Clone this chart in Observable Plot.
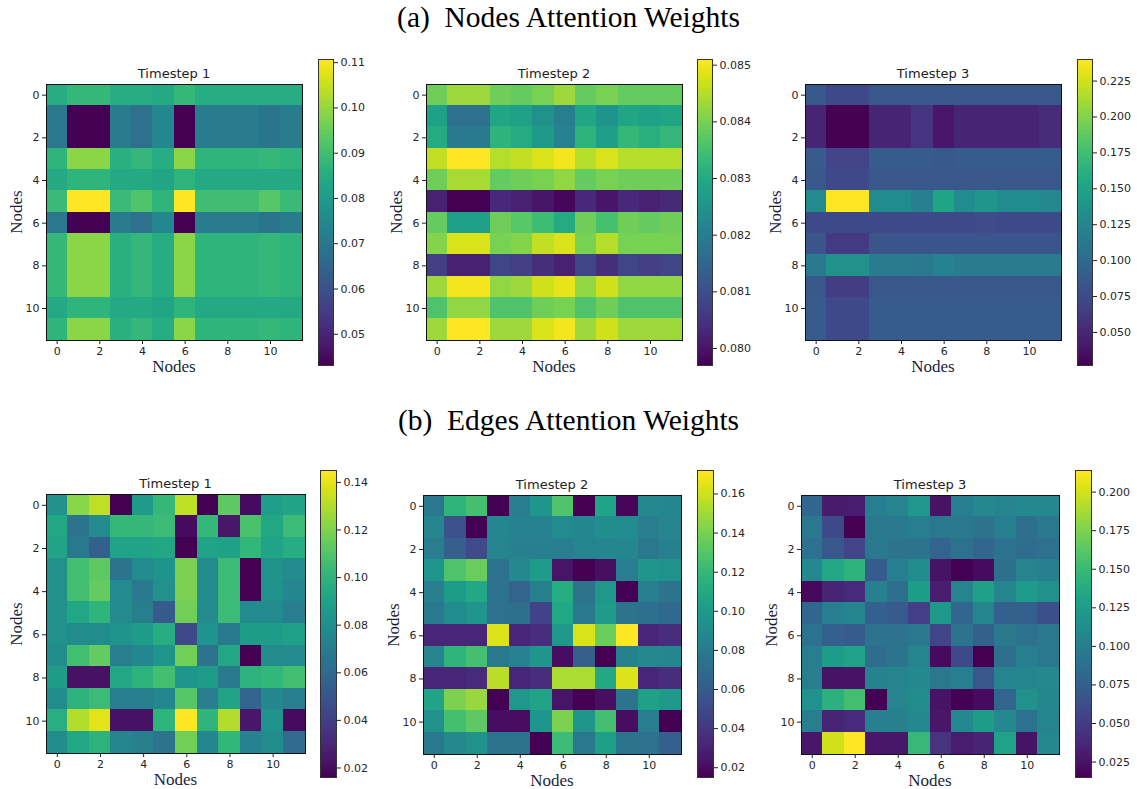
<!DOCTYPE html>
<html>
<head>
<meta charset="utf-8">
<script src="https://cdn.jsdelivr.net/npm/d3@7"></script>
<script src="https://cdn.jsdelivr.net/npm/@observablehq/plot@0.6"></script>
<style>
  html, body { margin: 0; padding: 0; background: #fff; }
  #root { position: relative; width: 1137px; height: 789px; overflow: hidden; background: #fff; }
  .heading { position: absolute; left: 0; width: 1137px; text-align: center; font-family: "Liberation Serif", "Times New Roman", serif; font-size: 29.5px; color: #000; white-space: pre; }
  .ptitle { position: absolute; text-align: center; font-family: "DejaVu Sans", sans-serif; font-size: 13px; color: #222; }
  .alabel { position: absolute; font-family: "Liberation Serif", "Times New Roman", serif; font-size: 17px; color: #1b1f3b; white-space: nowrap; }
  svg { position: absolute; overflow: visible; }
</style>
</head>
<body>
<div id="root"></div>
<script>
// ---------- DATA ----------
const nodeIndex = d3.range(12);
const axisTicks = [0, 2, 4, 6, 8, 10];
const headings = ["(a)  Nodes Attention Weights", "(b)  Edges Attention Weights"];
const panelTitles = ["Timestep 1", "Timestep 2", "Timestep 3"];
const axisLabel = "Nodes";

// (a) Nodes attention, timestep 1
const nodesT1 = [
  [0.085, 0.088, 0.088, 0.085, 0.085, 0.084, 0.088, 0.085, 0.085, 0.085, 0.085, 0.085],
  [0.070, 0.043, 0.043, 0.071, 0.068, 0.074, 0.043, 0.071, 0.071, 0.071, 0.069, 0.071],
  [0.070, 0.043, 0.043, 0.071, 0.068, 0.074, 0.043, 0.071, 0.071, 0.071, 0.069, 0.071],
  [0.087, 0.099, 0.099, 0.086, 0.088, 0.085, 0.099, 0.087, 0.087, 0.087, 0.088, 0.087],
  [0.084, 0.087, 0.087, 0.084, 0.084, 0.083, 0.087, 0.084, 0.084, 0.084, 0.084, 0.084],
  [0.089, 0.111, 0.111, 0.089, 0.092, 0.087, 0.111, 0.090, 0.090, 0.090, 0.093, 0.089],
  [0.070, 0.043, 0.043, 0.071, 0.068, 0.074, 0.043, 0.071, 0.071, 0.071, 0.069, 0.071],
  [0.088, 0.099, 0.099, 0.086, 0.088, 0.085, 0.099, 0.087, 0.087, 0.087, 0.088, 0.087],
  [0.088, 0.099, 0.099, 0.086, 0.088, 0.085, 0.099, 0.087, 0.087, 0.087, 0.088, 0.087],
  [0.088, 0.099, 0.099, 0.086, 0.088, 0.085, 0.099, 0.087, 0.087, 0.087, 0.088, 0.087],
  [0.084, 0.087, 0.087, 0.084, 0.084, 0.083, 0.087, 0.084, 0.084, 0.084, 0.084, 0.084],
  [0.087, 0.099, 0.099, 0.086, 0.088, 0.085, 0.099, 0.087, 0.087, 0.087, 0.088, 0.087]
];
// (a) Nodes attention, timestep 2
const nodesT2 = [
  [0.0839, 0.0843, 0.0843, 0.0839, 0.0838, 0.0840, 0.0843, 0.0838, 0.0840, 0.0838, 0.0838, 0.0838],
  [0.0828, 0.0817, 0.0817, 0.0829, 0.0828, 0.0824, 0.0820, 0.0829, 0.0825, 0.0829, 0.0828, 0.0829],
  [0.0830, 0.0819, 0.0819, 0.0832, 0.0830, 0.0826, 0.0821, 0.0832, 0.0827, 0.0833, 0.0831, 0.0833],
  [0.0846, 0.0851, 0.0851, 0.0845, 0.0846, 0.0848, 0.0850, 0.0845, 0.0848, 0.0845, 0.0845, 0.0845],
  [0.0839, 0.0844, 0.0844, 0.0838, 0.0839, 0.0840, 0.0842, 0.0838, 0.0840, 0.0839, 0.0839, 0.0839],
  [0.0802, 0.0797, 0.0797, 0.0803, 0.0802, 0.0800, 0.0798, 0.0803, 0.0800, 0.0803, 0.0802, 0.0803],
  [0.0838, 0.0828, 0.0828, 0.0839, 0.0837, 0.0834, 0.0830, 0.0839, 0.0835, 0.0839, 0.0838, 0.0839],
  [0.0841, 0.0848, 0.0848, 0.0840, 0.0841, 0.0846, 0.0848, 0.0840, 0.0845, 0.0840, 0.0840, 0.0840],
  [0.0807, 0.0802, 0.0802, 0.0808, 0.0807, 0.0804, 0.0802, 0.0808, 0.0804, 0.0808, 0.0807, 0.0808],
  [0.0843, 0.0850, 0.0850, 0.0842, 0.0843, 0.0847, 0.0849, 0.0842, 0.0847, 0.0842, 0.0842, 0.0842],
  [0.0836, 0.0842, 0.0842, 0.0836, 0.0836, 0.0839, 0.0840, 0.0836, 0.0839, 0.0836, 0.0836, 0.0836],
  [0.0843, 0.0851, 0.0851, 0.0843, 0.0843, 0.0848, 0.0850, 0.0843, 0.0847, 0.0843, 0.0843, 0.0843]
];
// (a) Nodes attention, timestep 3
const nodesT3 = [
  [0.085, 0.074, 0.074, 0.085, 0.085, 0.085, 0.085, 0.085, 0.085, 0.085, 0.085, 0.085],
  [0.048, 0.027, 0.027, 0.048, 0.048, 0.059, 0.040, 0.048, 0.048, 0.048, 0.048, 0.053],
  [0.048, 0.027, 0.027, 0.048, 0.048, 0.059, 0.040, 0.048, 0.048, 0.048, 0.048, 0.053],
  [0.087, 0.070, 0.070, 0.087, 0.087, 0.087, 0.085, 0.087, 0.087, 0.087, 0.087, 0.087],
  [0.085, 0.074, 0.074, 0.085, 0.085, 0.085, 0.085, 0.085, 0.085, 0.085, 0.085, 0.085],
  [0.129, 0.240, 0.240, 0.129, 0.129, 0.119, 0.151, 0.129, 0.138, 0.129, 0.129, 0.127],
  [0.074, 0.074, 0.074, 0.074, 0.074, 0.074, 0.074, 0.074, 0.076, 0.074, 0.074, 0.074],
  [0.082, 0.063, 0.063, 0.082, 0.082, 0.082, 0.082, 0.082, 0.082, 0.082, 0.082, 0.082],
  [0.112, 0.134, 0.134, 0.116, 0.116, 0.112, 0.121, 0.116, 0.116, 0.116, 0.116, 0.116],
  [0.085, 0.065, 0.065, 0.085, 0.085, 0.085, 0.085, 0.085, 0.085, 0.085, 0.085, 0.085],
  [0.087, 0.074, 0.074, 0.087, 0.087, 0.087, 0.087, 0.087, 0.087, 0.087, 0.087, 0.087],
  [0.087, 0.074, 0.074, 0.087, 0.087, 0.087, 0.087, 0.087, 0.087, 0.087, 0.087, 0.087]
];
// (b) Edges attention, timestep 1
const edgesT1 = [
  [0.081, 0.122, 0.132, 0.016, 0.087, 0.102, 0.132, 0.016, 0.113, 0.020, 0.088, 0.091],
  [0.093, 0.065, 0.077, 0.102, 0.102, 0.104, 0.020, 0.102, 0.024, 0.108, 0.093, 0.104],
  [0.091, 0.068, 0.055, 0.091, 0.091, 0.093, 0.016, 0.091, 0.090, 0.101, 0.091, 0.096],
  [0.081, 0.106, 0.113, 0.065, 0.077, 0.083, 0.119, 0.077, 0.104, 0.016, 0.081, 0.077],
  [0.081, 0.106, 0.114, 0.077, 0.068, 0.081, 0.119, 0.077, 0.104, 0.016, 0.081, 0.075],
  [0.081, 0.093, 0.100, 0.077, 0.071, 0.052, 0.117, 0.077, 0.104, 0.077, 0.077, 0.070],
  [0.081, 0.078, 0.078, 0.083, 0.087, 0.096, 0.044, 0.083, 0.068, 0.087, 0.087, 0.090],
  [0.078, 0.106, 0.114, 0.070, 0.075, 0.084, 0.117, 0.065, 0.093, 0.016, 0.078, 0.077],
  [0.087, 0.022, 0.022, 0.093, 0.099, 0.106, 0.084, 0.087, 0.068, 0.099, 0.101, 0.106],
  [0.078, 0.099, 0.104, 0.071, 0.071, 0.075, 0.111, 0.070, 0.091, 0.057, 0.075, 0.071],
  [0.097, 0.130, 0.139, 0.022, 0.022, 0.100, 0.145, 0.100, 0.130, 0.024, 0.083, 0.020],
  [0.078, 0.093, 0.099, 0.074, 0.071, 0.065, 0.117, 0.075, 0.101, 0.073, 0.078, 0.061]
];
// (b) Edges attention, timestep 2
const edgesT2 = [
  [0.078, 0.117, 0.125, 0.015, 0.081, 0.097, 0.128, 0.015, 0.106, 0.018, 0.089, 0.087],
  [0.086, 0.054, 0.015, 0.087, 0.084, 0.084, 0.090, 0.087, 0.092, 0.090, 0.081, 0.086],
  [0.081, 0.062, 0.050, 0.086, 0.083, 0.083, 0.081, 0.086, 0.087, 0.087, 0.078, 0.083],
  [0.097, 0.128, 0.136, 0.073, 0.089, 0.101, 0.023, 0.015, 0.021, 0.081, 0.097, 0.094],
  [0.081, 0.101, 0.109, 0.073, 0.065, 0.083, 0.112, 0.075, 0.098, 0.015, 0.081, 0.075],
  [0.078, 0.090, 0.097, 0.073, 0.072, 0.046, 0.109, 0.078, 0.101, 0.075, 0.072, 0.068],
  [0.031, 0.031, 0.031, 0.164, 0.031, 0.035, 0.098, 0.163, 0.136, 0.172, 0.031, 0.035],
  [0.086, 0.117, 0.125, 0.078, 0.084, 0.097, 0.020, 0.062, 0.015, 0.083, 0.089, 0.087],
  [0.031, 0.031, 0.034, 0.156, 0.031, 0.035, 0.152, 0.152, 0.109, 0.164, 0.031, 0.035],
  [0.106, 0.141, 0.148, 0.015, 0.098, 0.106, 0.023, 0.015, 0.021, 0.075, 0.104, 0.100],
  [0.094, 0.125, 0.133, 0.020, 0.020, 0.097, 0.141, 0.097, 0.125, 0.020, 0.081, 0.015],
  [0.078, 0.089, 0.094, 0.075, 0.075, 0.015, 0.122, 0.078, 0.103, 0.075, 0.073, 0.062]
];
// (b) Edges attention, timestep 3
const edgesT3 = [
  [0.081, 0.029, 0.031, 0.099, 0.105, 0.120, 0.025, 0.099, 0.109, 0.105, 0.109, 0.109],
  [0.095, 0.059, 0.015, 0.095, 0.095, 0.099, 0.095, 0.095, 0.091, 0.099, 0.087, 0.095],
  [0.089, 0.069, 0.055, 0.095, 0.091, 0.091, 0.079, 0.089, 0.081, 0.089, 0.085, 0.089],
  [0.109, 0.134, 0.144, 0.071, 0.099, 0.111, 0.025, 0.015, 0.021, 0.087, 0.105, 0.101],
  [0.019, 0.035, 0.039, 0.101, 0.087, 0.124, 0.031, 0.105, 0.128, 0.105, 0.124, 0.115],
  [0.081, 0.099, 0.105, 0.075, 0.071, 0.051, 0.120, 0.081, 0.105, 0.075, 0.075, 0.063],
  [0.089, 0.075, 0.071, 0.091, 0.089, 0.095, 0.055, 0.091, 0.075, 0.095, 0.089, 0.095],
  [0.099, 0.124, 0.130, 0.085, 0.091, 0.105, 0.021, 0.059, 0.015, 0.087, 0.099, 0.095],
  [0.099, 0.025, 0.025, 0.103, 0.105, 0.109, 0.095, 0.099, 0.069, 0.105, 0.105, 0.109],
  [0.115, 0.142, 0.154, 0.015, 0.105, 0.111, 0.025, 0.015, 0.021, 0.079, 0.115, 0.107],
  [0.099, 0.035, 0.039, 0.101, 0.101, 0.109, 0.027, 0.109, 0.124, 0.109, 0.089, 0.105],
  [0.027, 0.200, 0.214, 0.027, 0.027, 0.148, 0.045, 0.031, 0.035, 0.130, 0.025, 0.109]
];

// colour-bar ranges and tick labels
const nodesDomains = [[0.0431, 0.1107], [0.0797, 0.0851], [0.027, 0.240]];
const edgesDomains = [[0.016, 0.145], [0.015, 0.172], [0.015, 0.214]];
const nodesBarTicks = [
  [0.05, 0.06, 0.07, 0.08, 0.09, 0.10, 0.11],
  [0.080, 0.081, 0.082, 0.083, 0.084, 0.085],
  [0.050, 0.075, 0.100, 0.125, 0.150, 0.175, 0.200, 0.225]
];
const edgesBarTicks = [
  [0.02, 0.04, 0.06, 0.08, 0.10, 0.12, 0.14],
  [0.02, 0.04, 0.06, 0.08, 0.10, 0.12, 0.14, 0.16],
  [0.025, 0.050, 0.075, 0.100, 0.125, 0.150, 0.175, 0.200]
];
const barFormats = [[".2f", ".3f", ".3f"], [".2f", ".2f", ".3f"]];

// ---------- LAYOUT ----------
const root = document.getElementById("root");
const FONT = "DejaVu Sans, sans-serif";
const TXT = "#262626";

function addDiv(cls, text, css) {
  const d = document.createElement("div");
  d.className = cls;
  d.textContent = text;
  Object.assign(d.style, css);
  root.appendChild(d);
  return d;
}

function place(svg, left, top) {
  svg.style.left = left + "px";
  svg.style.top = top + "px";
  root.appendChild(svg);
}

function heatmap(matrix, domain, f) {
  const cells = matrix.flatMap((row, i) => row.map((value, j) => ({row: i, col: j, value})));
  const ml = 40, mr = 4, mt = 4, mb = 24;
  const svg = Plot.plot({
    width: f.w + ml + mr,
    height: f.h + mt + mb,
    marginLeft: ml, marginRight: mr, marginTop: mt, marginBottom: mb,
    style: {fontFamily: FONT, fontSize: "11px", color: TXT, background: "transparent", overflow: "visible"},
    x: {type: "band", domain: nodeIndex, padding: 0, round: false},
    y: {type: "band", domain: nodeIndex, padding: 0, round: false},
    color: {type: "linear", scheme: "viridis", domain},
    marks: [
      Plot.cell(cells, {x: "col", y: "row", fill: "value", inset: -0.5, shapeRendering: "crispEdges"}),
      Plot.frame({stroke: "#111", strokeWidth: 1}),
      Plot.axisX({ticks: axisTicks, tickSize: 4, tickPadding: 3, label: null, stroke: "#222", fill: TXT}),
      Plot.axisY({ticks: axisTicks, tickSize: 4, tickPadding: 3, label: null, stroke: "#222", fill: TXT})
    ]
  });
  place(svg, f.left - ml, f.top - mt);
}

function colorbar(domain, ticks, fmt, b) {
  const ml = 0, mr = 50, mt = 10, mb = 10;
  const svg = Plot.plot({
    width: b.w + ml + mr,
    height: b.h + mt + mb,
    marginLeft: ml, marginRight: mr, marginTop: mt, marginBottom: mb,
    style: {fontFamily: FONT, fontSize: "11px", color: TXT, background: "transparent", overflow: "visible"},
    x: {domain: [0, 1], axis: null},
    y: {domain},
    color: {type: "linear", scheme: "viridis", domain},
    marks: [
      Plot.raster({x1: 0, x2: 1, y1: domain[0], y2: domain[1], fill: (x, y) => y, width: 2, height: 300}),
      Plot.frame({stroke: "#333", strokeWidth: 1}),
      Plot.axisY({anchor: "right", ticks, tickFormat: d3.format(fmt), tickSize: 4, tickPadding: 3, label: null, stroke: "#222", fill: TXT})
    ]
  });
  place(svg, b.left - ml, b.top - mt);
}

const rows = [
  {
    heading: headings[0], headTop: 1,
    mats: [nodesT1, nodesT2, nodesT3], domains: nodesDomains, ticks: nodesBarTicks, fmts: barFormats[0],
    frames: [{left: 46, top: 84, w: 256, h: 256}, {left: 426, top: 84, w: 256, h: 256}, {left: 805, top: 84, w: 256, h: 256}],
    bars: [{left: 318, top: 59, w: 15, h: 306}, {left: 697, top: 59, w: 15, h: 306}, {left: 1077, top: 59, w: 15, h: 306}]
  },
  {
    heading: headings[1], headTop: 404,
    mats: [edgesT1, edgesT2, edgesT3], domains: edgesDomains, ticks: edgesBarTicks, fmts: barFormats[1],
    frames: [{left: 46, top: 494, w: 259, h: 259}, {left: 423, top: 495, w: 258, h: 259}, {left: 801, top: 495, w: 258, h: 259}],
    bars: [{left: 320, top: 470, w: 16, h: 307}, {left: 697, top: 470, w: 16, h: 307}, {left: 1075, top: 470, w: 16, h: 307}]
  }
];

rows.forEach(r => {
  addDiv("heading", r.heading, {top: r.headTop + "px"});
  r.frames.forEach((f, k) => {
    heatmap(r.mats[k], r.domains[k], f);
    colorbar(r.domains[k], r.ticks[k], r.fmts[k], r.bars[k]);
    addDiv("ptitle", panelTitles[k], {left: f.left + "px", width: f.w + "px", top: (f.top - 18) + "px"});
    addDiv("alabel", axisLabel, {left: (f.left + f.w / 2) + "px", top: (f.top + f.h + 27) + "px", transform: "translate(-50%, -50%)"});
    addDiv("alabel", axisLabel, {left: (f.left - 29) + "px", top: (f.top + f.h / 2) + "px", transform: "translate(-50%, -50%) rotate(-90deg)"});
  });
});
</script>
</body>
</html>
